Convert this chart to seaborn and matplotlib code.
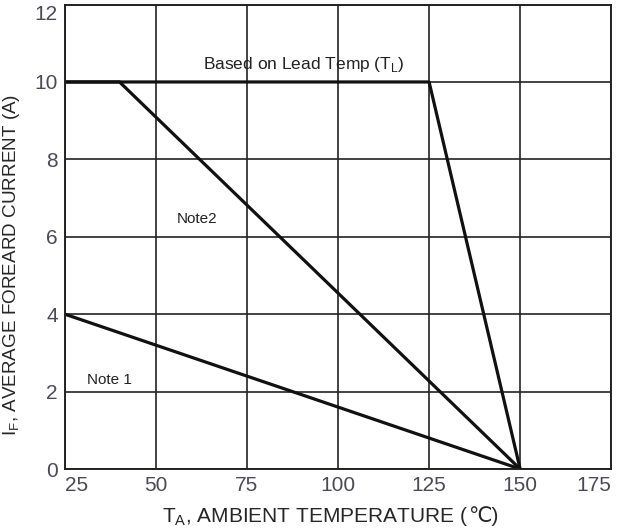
import pandas as pd
import seaborn as sns
import matplotlib.pyplot as plt

# Derating curves
lead_temp = [25, 125, 150]
lead_curr = [10, 10, 0]
note2_temp = [25, 40, 150]
note2_curr = [10, 10, 0]
note1_temp = [25, 150]
note1_curr = [4, 0]

x_ticks = [25, 50, 75, 100, 125, 150, 175]
y_ticks = [0, 2, 4, 6, 8, 10, 12]

df = pd.concat([
    pd.DataFrame({"T": lead_temp, "I": lead_curr, "curve": "lead"}),
    pd.DataFrame({"T": note2_temp, "I": note2_curr, "curve": "note2"}),
    pd.DataFrame({"T": note1_temp, "I": note1_curr, "curve": "note1"}),
])

sns.set_style("white")
plt.rcParams["font.family"] = ["Liberation Sans", "DejaVu Sans"]
plt.rcParams["mathtext.fontset"] = "custom"
plt.rcParams["mathtext.rm"] = "Liberation Sans"

W, H = 618, 529
fig = plt.figure(figsize=(W / 100, H / 100), dpi=100)
ax = fig.add_axes([0.105, 0.1134, 0.884, 0.878])

sns.lineplot(data=df, x="T", y="I", units="curve", estimator=None,
             color="#111111", linewidth=2.3, sort=False, ax=ax)

ax.set_xlim(25, 175)
ax.set_ylim(0, 12)
ax.set_xticks(x_ticks)
ax.set_yticks(y_ticks)
ax.grid(True, color="#222222", linewidth=1.2)
for s in ax.spines.values():
    s.set_color("#222222")
    s.set_linewidth(1.4)
ax.tick_params(length=0, labelsize=15, labelcolor="#4a4a55")
ax.tick_params(axis="x", pad=5)
ax.tick_params(axis="y", pad=5)
xl = ax.get_xticklabels()
xl[0].set_horizontalalignment("left")
xl[-1].set_horizontalalignment("right")
yl = ax.get_yticklabels()
yl[-1].set_verticalalignment("top")

ax.set_xlabel("")
ax.set_ylabel(r"I$_\mathregular{F}$, AVERAGE FOREARD CURRENT (A)", fontsize=13.6)
ax.yaxis.set_label_coords(-0.078, 0.44)

# x label in two parts so the ℃ sign can come from DejaVu Sans
t1 = fig.text(0, 0.013, r"T$_\mathregular{A}$, AMBIENT TEMPERATURE (", fontsize=15,
              ha="left", va="baseline")
t2 = fig.text(0, 0.013, "℃)", fontsize=15, ha="left", va="baseline")
r = fig.canvas.get_renderer()
w1 = t1.get_window_extent(r).width
w2 = t2.get_window_extent(r).width
x0 = 330 - (w1 + w2) / 2
t1.set_x(x0 / W)
t2.set_x((x0 + w1) / W)

ax.text(90.5, 10.33, r"Based on Lead Temp (T$_\mathregular{L}$)", fontsize=12.5,
        ha="center", va="baseline", color="#222222")
ax.text(55.8, 6.36, "Note2", fontsize=11, ha="left", va="baseline", color="#222222")
ax.text(31, 2.2, "Note 1", fontsize=11, ha="left", va="baseline", color="#222222")

plt.savefig("out.png", dpi=100)
